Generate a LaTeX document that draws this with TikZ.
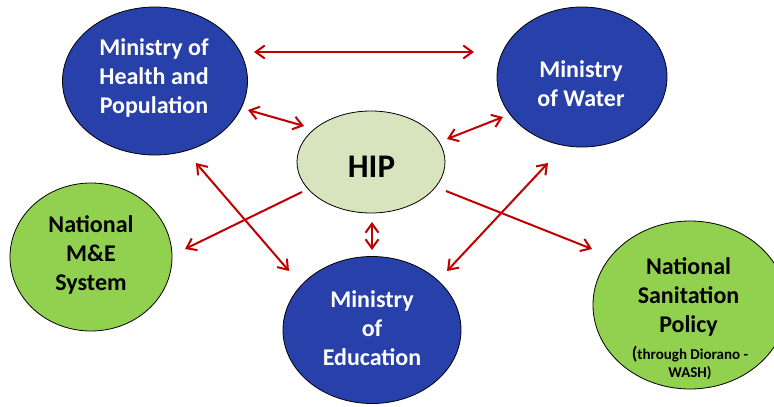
\documentclass[tikz,border=0pt]{standalone}
\usepackage{fontspec}
\setmainfont{Carlito}
\usetikzlibrary{arrows.meta,calc,shapes.geometric}
\definecolor{minblue}{HTML}{2840AA}
\definecolor{natgreen}{HTML}{92D050}
\definecolor{hipgreen}{HTML}{D7E4BD}
\definecolor{linkred}{HTML}{C00000}
\begin{document}
\begin{tikzpicture}[x=1pt,y=-1pt,
  >={Straight Barb[length=9pt,width=13pt]},
  bubble/.style={ellipse,draw=black,line width=0.8pt,inner sep=0pt},
  ministry/.style={bubble,fill=minblue},
  national/.style={bubble,fill=natgreen},
  hub/.style={bubble,fill=hipgreen},
  caption/.style={align=center,inner sep=0pt,font=\bfseries\fontsize{24}{29}\selectfont},
  whitecap/.style={caption,text=white},
  link/.style={draw=linkred,line width=2pt}]
\useasboundingbox (0,0) rectangle (774,407);

% bubbles
\node[ministry,minimum width=185pt,minimum height=148pt] (health) at (155,81) {};
\node[ministry,minimum width=170pt,minimum height=140pt] (water)  at (582,77) {};
\node[hub,minimum width=148pt,minimum height=102pt]      (hip)    at (371,162) {};
\node[national,minimum width=162pt,minimum height=148pt] (me)     at (91,257) {};
\node[ministry,minimum width=178pt,minimum height=147pt] (edu)    at (372,330) {};
\node[national,minimum width=194pt,minimum height=168pt] (san)    at (690,305) {};

% captions
\node[whitecap] (health-label) at (154,78) {Ministry of\\Health and\\Population};
\node[whitecap] (water-label) at (581,84) {Ministry\\of Water};
\node[whitecap] (edu-label) at (372,328) {Ministry\\of\\Education};
\node[caption] (me-label) at (91,255) {National\\M\&E\\System};
\node[caption,font=\bfseries\fontsize{33}{36}\selectfont] (hip-label) at (371.5,166.5) {HIP};
\node[caption] (san-label) at (688.5,296.5) {National\\Sanitation\\Policy};
\node[caption,font=\bfseries\fontsize{15}{18}\selectfont] (san-note) at (690,363)
  {{\fontsize{18}{18}\selectfont(}through Diorano -\\WASH)};

% links
\draw[link,<->] ($(health.center)+(99,-29)$) -- ($(water.center)+(-108,-25)$);
\draw[link,<->] ($(health.center)+(93,29)$) -- ($(hip.center)+(-67,-36)$);
\draw[link,<->] ($(hip.center)+(76,-23)$) -- ($(water.center)+(-79,40)$);
\draw[link,<->] ($(health.center)+(41,82)$) -- ($(edu.center)+(-83,-59)$);
\draw[link,->]  ($(hip.center)+(-69,30)$) -- ($(me.center)+(94,-8)$);
\draw[link,<->] ($(hip.center)+(1,60)$) -- ($(edu.center)+(0,-80)$);
\draw[link,->]  ($(hip.center)+(75,29)$) -- ($(san.center)+(-98,-56)$);
\draw[link,<->] ($(water.center)+(-34,86)$) -- ($(edu.center)+(75,-59)$);
\end{tikzpicture}
\end{document}
